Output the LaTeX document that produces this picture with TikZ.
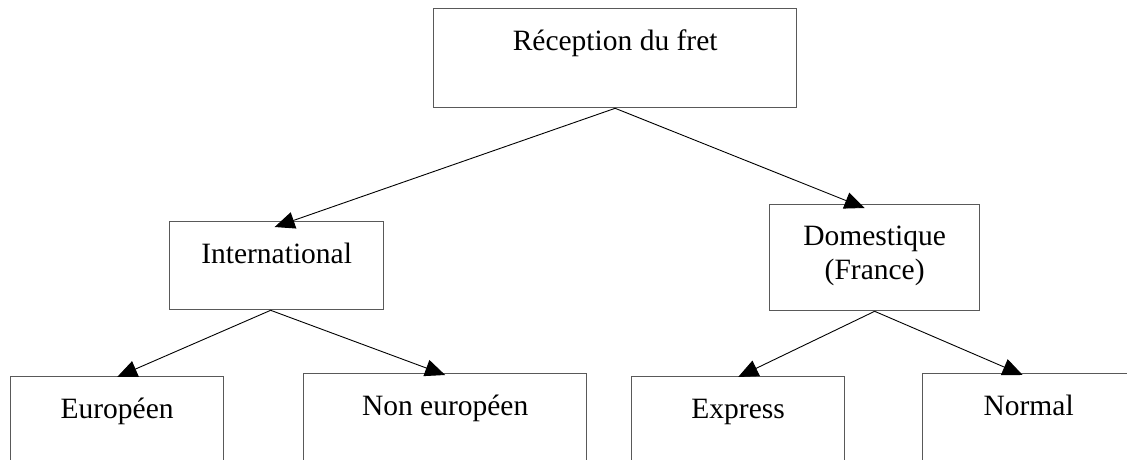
\documentclass[tikz,border=0pt]{standalone}
\usepackage{fontspec}
\setmainfont{Liberation Serif}
\usetikzlibrary{arrows.meta}

\begin{document}
\begin{tikzpicture}[x=1pt,y=-1pt,
  box/.style={draw=black!65, line width=1.3pt, fill=none, inner sep=0pt, anchor=north west},
  lbl/.style={inner sep=0pt, font=\fontsize{29.5}{34}\selectfont, align=center},
  arr/.style={-{Triangle[length=20pt,width=17pt]}, line width=0.9pt, black}]

\useasboundingbox (0,0) rectangle (1127,460);
\clip (0,0) rectangle (1127,460);
\fill[white] (0,0) rectangle (1127,460);

% boxes (top-left corner, size)
\node[box, minimum width=363pt, minimum height=99pt]  (rec) at (433,8) {};
\node[box, minimum width=214pt, minimum height=88pt]  (int) at (169,221) {};
\node[box, minimum width=210pt, minimum height=106pt] (dom) at (769,204) {};
\node[box, minimum width=213pt, minimum height=110pt] (eur) at (10,376) {};
\node[box, minimum width=283pt, minimum height=110pt] (neu) at (303,373) {};
\node[box, minimum width=213pt, minimum height=110pt] (exp) at (631,376) {};
\node[box, minimum width=212pt, minimum height=110pt] (nor) at (922,373) {};

% labels
\node[lbl, anchor=base] (trec) at ([yshift=-43pt]rec.north) {Réception du fret};
\node[lbl, anchor=base] (tint) at ([yshift=-42pt]int.north) {International};
\node[lbl, anchor=north] (tdom) at ([yshift=-22pt]dom.north) {Domestique\\(France)};
\node[lbl, anchor=base] (teur) at ([yshift=-42pt]eur.north) {Européen};
\node[lbl, anchor=base] (tneu) at ([yshift=-42pt]neu.north) {Non européen};
\node[lbl, anchor=base] (texp) at ([yshift=-42pt]exp.north) {Express};
\node[lbl, anchor=base] (tnor) at ([yshift=-42pt]nor.north) {Normal};

% connectors
\draw[arr] (rec.south) -- ([xshift=-2pt,yshift=-6pt]int.north);
\draw[arr] (rec.south) -- ([xshift=-10pt,yshift=-4pt]dom.north);
\draw[arr] ([xshift=-6pt]int.south) -- ([yshift=-1pt]eur.north);
\draw[arr] ([xshift=-6pt]int.south) -- ([yshift=-2pt]neu.north);
\draw[arr] (dom.south) -- ([yshift=-1pt]exp.north);
\draw[arr] (dom.south) -- ([xshift=-6pt,yshift=-2pt]nor.north);
\end{tikzpicture}
\end{document}
